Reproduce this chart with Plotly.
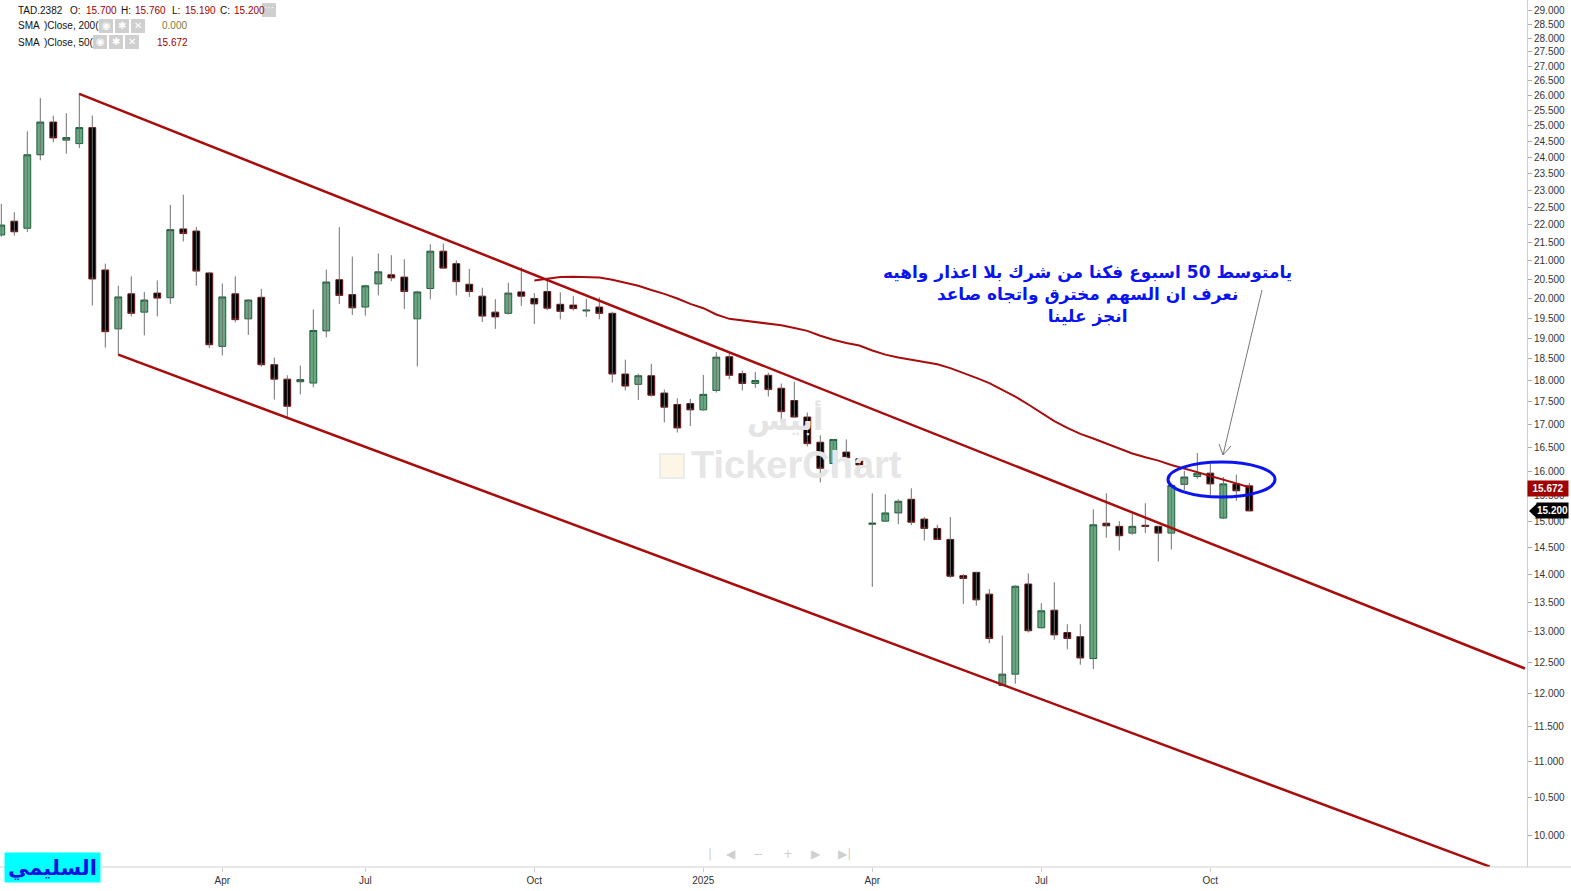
import math
import plotly.graph_objects as go

# ---------------- data ----------------
x_labels_pos = [17, 28, 41, 54, 67, 80, 93]
x_labels_txt = ["Apr", "Jul", "Oct", "2025", "Apr", "Jul", "Oct"]

opens = [21.71, 22.10, 21.90, 24.08, 25.12, 24.54, 24.43, 24.94, 20.75, 19.23,
         20.12, 19.65, 20.14, 20.02, 21.88, 21.82, 20.67, 18.80, 20.12, 19.48,
         20.03, 18.36, 18.02, 17.96, 17.93, 19.18, 20.49, 20.10, 19.78, 20.38,
         20.62, 20.56, 19.48, 20.26, 21.26, 20.92, 20.37, 20.06, 19.65, 19.62,
         20.17, 20.00, 20.18, 19.85, 19.83, 19.68, 19.78, 19.62, 18.14, 17.90,
         18.10, 17.70, 17.44, 17.46, 17.32, 17.76, 18.55, 18.15, 17.92, 18.11,
         17.81, 17.53, 17.16, 16.61, 16.16, 16.40, 16.26, 14.94, 15.00, 15.16,
         15.43, 15.04, 14.86, 14.65, 13.98, 14.04, 13.65, 12.13, 12.31, 13.83,
         13.07, 13.37, 12.99, 12.92, 12.56, 14.96, 14.90, 14.77, 14.92, 14.90,
         14.77, 15.73, 15.89, 15.96, 15.06, 15.74, 15.70]
highs = [22.60, 22.36, 24.82, 25.91, 25.33, 25.41, 26.08, 25.33, 20.92, 20.33,
         20.58, 20.17, 20.47, 22.57, 22.87, 21.94, 20.70, 20.39, 20.58, 19.98,
         20.25, 18.53, 18.11, 18.34, 19.72, 20.76, 21.93, 21.11, 20.36, 21.20,
         21.15, 21.04, 20.20, 21.45, 21.47, 21.01, 20.78, 20.28, 19.98, 20.41,
         20.82, 20.14, 20.54, 20.16, 20.06, 19.99, 20.03, 19.66, 18.48, 18.15,
         18.38, 17.78, 17.58, 17.57, 18.12, 18.66, 18.66, 18.22, 18.19, 18.17,
         17.92, 17.96, 17.26, 16.76, 16.68, 16.67, 16.27, 15.55, 15.53, 15.43,
         15.65, 15.08, 14.93, 15.08, 14.01, 14.05, 13.74, 12.94, 13.81, 14.02,
         13.49, 13.86, 13.13, 13.13, 15.23, 15.55, 15.00, 15.19, 15.35, 14.91,
         15.72, 16.01, 16.38, 16.15, 15.88, 15.93, 15.76]
lows = [21.66, 21.69, 21.79, 23.91, 24.47, 24.11, 24.29, 19.82, 18.77, 18.58,
        19.54, 19.07, 19.54, 19.86, 21.53, 20.33, 18.76, 18.58, 19.39, 19.08,
        18.31, 17.55, 17.14, 17.67, 17.83, 19.02, 19.86, 19.58, 19.56, 20.08,
        20.45, 19.73, 18.32, 19.98, 20.78, 20.08, 20.04, 19.40, 19.23, 19.59,
        19.81, 19.35, 19.70, 19.47, 19.69, 19.53, 19.47, 17.94, 17.76, 17.54,
        17.62, 17.04, 16.82, 16.96, 17.30, 17.71, 18.02, 17.76, 17.82, 17.62,
        17.04, 17.14, 16.52, 15.77, 15.93, 16.06, 16.00, 13.78, 14.99, 14.94,
        14.92, 14.63, 14.64, 13.94, 13.48, 13.45, 12.81, 12.12, 12.16, 12.99,
        13.06, 12.87, 12.71, 12.46, 12.39, 14.68, 14.44, 14.74, 14.77, 14.24,
        14.46, 15.61, 15.84, 15.51, 15.04, 15.40, 15.19]
closes = [21.99, 21.80, 24.08, 25.12, 24.61, 24.62, 24.94, 20.51, 19.16, 20.04,
          19.62, 19.96, 20.01, 21.86, 21.75, 20.72, 18.84, 20.04, 19.46, 19.96,
          18.36, 18.02, 17.40, 18.01, 19.19, 20.43, 20.08, 19.76, 20.33, 20.70,
          20.54, 20.18, 20.17, 21.26, 20.80, 20.44, 20.18, 19.55, 19.53, 20.14,
          20.06, 19.86, 19.75, 19.67, 19.74, 19.70, 19.62, 18.14, 17.86, 18.10,
          17.65, 17.38, 16.92, 17.32, 17.67, 18.54, 18.11, 17.92, 17.99, 17.78,
          17.28, 17.16, 16.58, 16.06, 16.67, 16.28, 16.13, 14.96, 15.16, 15.39,
          14.98, 14.86, 14.65, 13.97, 13.93, 13.55, 12.89, 12.31, 13.79, 13.02,
          13.36, 12.95, 12.89, 12.57, 14.93, 14.91, 14.72, 14.90, 14.90, 14.77,
          15.71, 15.88, 15.96, 15.74, 15.74, 15.60, 15.20]
sma50 = [None] * 41 + [
    20.47, 20.52, 20.56, 20.57, 20.57, 20.55, 20.49, 20.41, 20.33, 20.22,
    20.12, 20.00, 19.86, 19.75, 19.59, 19.48, 19.44, 19.41, 19.37, 19.32,
    19.25, 19.18, 19.06, 18.96, 18.88, 18.82, 18.70, 18.60, 18.53, 18.48,
    18.43, 18.37, 18.28, 18.17, 18.05, 17.93, 17.77, 17.62, 17.44, 17.26,
    17.07, 16.92, 16.79, 16.69, 16.58, 16.47, 16.37, 16.29, 16.22, 16.13,
    16.06, 15.98, 15.90, 15.83, 15.75, 15.672]
upper_channel_x = [6, 117.2]
upper_channel_y = [26.05, 12.40]
lower_channel_x = [9, 114.5]
lower_channel_y = [18.60, 9.60]
y_ticks = [10.0, 10.5, 11.0, 11.5, 12.0, 12.5, 13.0, 13.5, 14.0, 14.5, 15.0, 15.5,
           16.0, 16.5, 17.0, 17.5, 18.0, 18.5, 19.0, 19.5, 20.0, 20.5, 21.0, 21.5,
           22.0, 22.5, 23.0, 23.5, 24.0, 24.5, 25.0, 25.5, 26.0, 26.5, 27.0, 27.5,
           28.0, 28.5, 29.0]
last_ohlc = ["15.700", "15.760", "15.190", "15.200"]
sma200_value = "0.000"
sma50_value = "15.672"
note_text = "يامتوسط 50 اسبوع فكنا من شرك بلا اعذار واهيه<br>نعرف ان السهم مخترق واتجاه صاعد<br>انجز علينا"

# ---------------- geometry helpers ----------------
W, H = 1571, 891
ML, MR, MT, MB = 0, 44, 0, 24
PW, PH = W - ML - MR, H - MT - MB


def px(x):
    return (x - ML) / PW


def py(y):
    return 1 - (y - MT) / PH


FONT = "Liberation Sans, Arial, DejaVu Sans, sans-serif"
DARKRED = "#a00000"
LINERED = "#a80c0c"

idx = list(range(len(opens)))
wx, wy = [], []
for i, (h, l) in enumerate(zip(highs, lows)):
    wx += [i, i, None]
    wy += [l, h, None]

fig = go.Figure()
fig.add_trace(go.Scatter(x=wx, y=wy, mode="lines", line=dict(color="#707070", width=1),
                         hoverinfo="skip", showlegend=False))
fig.add_trace(go.Candlestick(
    x=idx, open=opens, close=closes,
    high=[max(o, c) for o, c in zip(opens, closes)],
    low=[min(o, c) for o, c in zip(opens, closes)],
    increasing=dict(fillcolor="#6aa884", line=dict(color="#1f5e3a", width=1)),
    decreasing=dict(fillcolor="#000000", line=dict(color="#6b1818", width=1)),
    whiskerwidth=0, showlegend=False, hoverinfo="skip"))
fig.add_trace(go.Scatter(x=idx, y=sma50, mode="lines", line=dict(color=LINERED, width=2),
                         showlegend=False, hoverinfo="skip"))
fig.add_trace(go.Scatter(x=upper_channel_x, y=upper_channel_y, mode="lines",
                         line=dict(color=LINERED, width=2.5), showlegend=False, hoverinfo="skip"))
fig.add_trace(go.Scatter(x=lower_channel_x, y=lower_channel_y, mode="lines",
                         line=dict(color=LINERED, width=2.5), showlegend=False, hoverinfo="skip"))

shapes = []
annotations = []

# bottom axis line spanning full width
shapes.append(dict(type="line", xref="paper", yref="paper", x0=0, x1=px(W), y0=0, y1=0,
                   line=dict(color="#cfcfcf", width=1)))
# ellipse
shapes.append(dict(type="circle", xref="paper", yref="paper", x0=px(1168), x1=px(1275),
                   y0=py(497), y1=py(462), line=dict(color="#0a14f0", width=3)))
# arrow
shapes.append(dict(type="path", xref="paper", yref="paper",
                   path=f"M {px(1262)} {py(290)} L {px(1223)} {py(455)} "
                        f"M {px(1219)} {py(444)} L {px(1223)} {py(455)} L {px(1231)} {py(446)}",
                   line=dict(color="#777777", width=1)))
# watermark icon
shapes.append(dict(type="rect", xref="paper", yref="paper", x0=px(660), x1=px(684),
                   y0=py(478), y1=py(454), line=dict(color="#ececec", width=2),
                   fillcolor="#fdf6e6", layer="below"))

# legend icon boxes
for row_y, xs in [(26, [99, 115, 131]), (42, [93, 109, 125])]:
    for k, x0 in enumerate(xs):
        shapes.append(dict(type="rect", xref="paper", yref="paper", x0=px(x0), x1=px(x0 + 14),
                           y0=py(row_y + 7), y1=py(row_y - 7), line=dict(width=0),
                           fillcolor="#cfcfcf"))
        annotations.append(dict(xref="paper", yref="paper", x=px(x0 + 7), y=py(row_y),
                                text=["◉", "✱", "✕"][k], showarrow=False,
                                font=dict(family="DejaVu Sans", size=10, color="white"),
                                xanchor="center", yanchor="middle"))
shapes.append(dict(type="rect", xref="paper", yref="paper", x0=px(262), x1=px(276),
                   y0=py(17), y1=py(3), line=dict(width=0), fillcolor="#cfcfcf"))
annotations.append(dict(xref="paper", yref="paper", x=px(269), y=py(8), text="···",
                        showarrow=False, font=dict(family=FONT, size=10, color="white"),
                        xanchor="center", yanchor="middle"))


def txt(x, y, s, color="#111111", size=10, family=FONT, anchor="left"):
    annotations.append(dict(xref="paper", yref="paper", x=px(x), y=py(y), text=s,
                            showarrow=False, font=dict(family=family, size=size, color=color),
                            xanchor=anchor, yanchor="middle"))


# legend rows
txt(16, 10.5, "TAD.2382")
txt(68, 10.5, "O:")
txt(84, 10.5, last_ohlc[0], DARKRED)
txt(119, 10.5, "H:")
txt(133, 10.5, last_ohlc[1], DARKRED)
txt(170, 10.5, "L:")
txt(183, 10.5, last_ohlc[2], DARKRED)
txt(218, 10.5, "C:")
txt(232, 10.5, last_ohlc[3], DARKRED)
txt(16, 26, "SMA")
txt(42, 26, ")Close, 200(")
txt(160, 26, sma200_value, "#7b7b3c")
txt(16, 42.5, "SMA")
txt(42, 42.5, ")Close, 50(")
txt(155, 42.5, sma50_value, DARKRED)

# Arabic note
annotations.append(dict(xref="paper", yref="paper", x=px(1087), y=py(294), text=f"<b>{note_text}</b>",
                        showarrow=False, align="center",
                        font=dict(family="DejaVu Sans, sans-serif", size=17, color="#0a14f0"),
                        xanchor="center", yanchor="middle"))

# watermark
txt(785, 418, "<b>أبيس</b>", "#e4e4e4", 30, "DejaVu Sans, sans-serif", "center")
txt(797, 465, "<b>TickerChart</b>", "#e6e6e6", 38, "Liberation Sans, Arial, sans-serif", "center")

# navigation glyphs
for gx, g in [(710, "|"), (731, "◀"), (758, "−"), (788, "+"), (816, "▶"), (844, "▶|")]:
    txt(gx, 854, g, "#cfcfcf", 12, "DejaVu Sans", "center")

# price badges
annotations.append(dict(xref="paper", yref="paper", x=px(1548), y=py(488.5), text="<b>15.672</b>",
                        showarrow=False, bgcolor=DARKRED, width=40, height=15,
                        font=dict(family=FONT, size=10, color="white"),
                        xanchor="center", yanchor="middle", borderpad=0))
shapes.append(dict(type="path", xref="paper", yref="paper",
                   path=f"M {px(1529)} {py(511)} L {px(1537)} {py(503.5)} L {px(1537)} {py(518.5)} Z",
                   fillcolor="#000000", line=dict(width=0), layer="above"))
annotations.append(dict(xref="paper", yref="paper", x=px(1552), y=py(511), text="<b>15.200</b>",
                        showarrow=False, bgcolor="#000000", width=31, height=15,
                        font=dict(family=FONT, size=10, color="white"),
                        xanchor="center", yanchor="middle", borderpad=0))

# signature
annotations.append(dict(xref="paper", yref="paper", x=px(52), y=py(867.5), text="<b>السليمي</b>",
                        showarrow=False, bgcolor="#00ffff", width=95, height=29,
                        font=dict(family="Arial, DejaVu Sans, sans-serif", size=21, color="#1010e0"),
                        xanchor="center", yanchor="middle", borderpad=0))

fig.update_layout(
    width=W, height=H,
    margin=dict(l=ML, r=MR, t=MT, b=MB, pad=0),
    paper_bgcolor="white", plot_bgcolor="white",
    boxgap=0.25,
    showlegend=False,
    hovermode=False,
    shapes=shapes,
    annotations=annotations,
    xaxis=dict(range=[-0.1, 117.36], showgrid=False, zeroline=False,
               tickmode="array", tickvals=x_labels_pos, ticktext=x_labels_txt,
               ticks="outside", ticklen=4, tickcolor="#cccccc",
               tickfont=dict(family=FONT, size=10, color="#333333"),
               showline=False, rangeslider=dict(visible=False), fixedrange=True),
    yaxis=dict(type="log", side="right",
               range=[math.log10(9.595), math.log10(29.41)],
               tickmode="array", tickvals=y_ticks, tickformat=".3f",
               ticks="outside", ticklen=4, tickcolor="#aaaaaa",
               tickfont=dict(family=FONT, size=10, color="#333333"),
               showgrid=False, zeroline=False, showline=True, linecolor="#cfcfcf",
               linewidth=1, fixedrange=True),
)

fig.write_html("out.html", config={"displayModeBar": False},
               post_script="document.body.style.margin='0';")
